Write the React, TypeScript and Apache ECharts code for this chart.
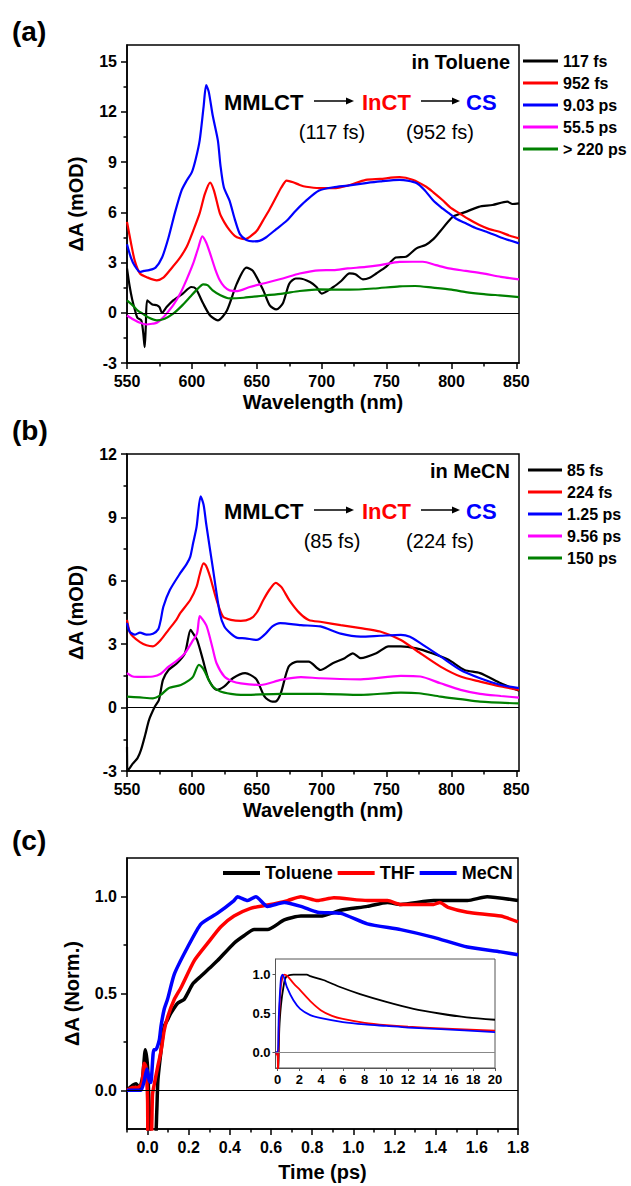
import React, { useEffect, useRef } from "react";
import * as echarts from "echarts";

type P = [number, number];

// ---------- Panel (a): in Toluene ----------
const aNames = ["117 fs", "952 fs", "9.03 ps", "55.5 ps", "> 220 ps"];
const a117fs: P[] = [[550,2.65],[552,1.6],[554,0.8],[556,0.2],[558,-0.3],[561,-0.45],[562.5,-1.2],[563.6,-2.06],[564.5,-0.8],[565.6,0.74],[569.5,0.5],[573,0.45],[575,0.34],[577,0.0],[580.5,0.34],[585.6,0.74],[593,1.15],[599.5,1.54],[603,1.44],[608.7,0.55],[614,-0.16],[620,-0.45],[627,0.14],[634.6,1.74],[642,2.7],[647,2.5],[655,1.34],[660,0.44],[665,0.2],[670,0.55],[675,1.74],[680,2.05],[683,2.05],[691,1.84],[696,1.54],[700,1.15],[709,1.54],[715,1.9],[721.5,2.35],[726,2.3],[731.7,2.0],[737,2.1],[742,2.35],[749.5,2.74],[757,3.3],[765,3.35],[773,3.85],[780,4.05],[786,4.4],[791,4.84],[801,5.73],[811,6.03],[821,6.33],[831.6,6.44],[843,6.64],[847,6.5],[852,6.54]];
const a952fs: P[] = [[550,5.43],[553,4.2],[556,3.1],[560,2.35],[566,2.1],[573,1.94],[578,2.1],[583,2.54],[590,3.2],[596,3.94],[601,4.9],[606,5.95],[610,7.1],[614,7.78],[617,7.3],[621.5,5.95],[625,5.4],[629,4.94],[633,4.6],[637,4.45],[641,4.4],[644.6,4.54],[650,4.9],[655,5.54],[660,6.2],[665,6.93],[669,7.5],[673,7.9],[678,7.8],[683,7.64],[688,7.53],[698,7.45],[709,7.45],[720,7.6],[734,7.94],[745,8.0],[760,8.1],[770,7.95],[780.5,7.53],[786,7.2],[793,6.74],[799,6.3],[806,5.95],[813,5.6],[821.5,5.24],[829,5.0],[837,4.84],[845,4.6],[852,4.45]];
const a903ps: P[] = [[550,4.1],[553,3.3],[556,2.8],[560,2.44],[563,2.5],[567,2.55],[572,2.7],[577,3.3],[582,4.5],[587,6.0],[592,7.3],[596,7.9],[600,8.4],[603,9.2],[606,10.3],[609,12.3],[611,13.6],[613,13.2],[616,11.8],[620,10.3],[622,8.8],[624.6,7.5],[629,6.7],[633,5.6],[637,4.7],[642,4.35],[647,4.27],[652,4.3],[657,4.5],[665,5.0],[673,5.5],[680,6.1],[688,6.7],[698,7.3],[709,7.5],[720,7.6],[734,7.75],[745,7.85],[760,7.94],[766,7.9],[773,7.75],[779,7.35],[785.6,6.74],[792,6.3],[798,5.95],[804,5.6],[811,5.35],[819,5.05],[827,4.84],[838,4.5],[852,4.15]];
const a555ps: P[] = [[550,-0.16],[555,-0.4],[560,-0.6],[565,-0.7],[570,-0.65],[573,-0.6],[577,-0.35],[580.5,-0.05],[586,0.5],[591,1.15],[596,2.0],[601,2.95],[605,3.9],[608,4.57],[611,4.2],[614,3.55],[618,2.6],[621.5,1.94],[625,1.55],[629,1.34],[635,1.3],[644.6,1.54],[655,1.75],[670,2.05],[683,2.35],[698,2.54],[709,2.55],[720,2.65],[734,2.74],[745,2.85],[760,3.04],[770,3.05],[778,3.05],[788,2.85],[798,2.65],[811,2.5],[824,2.35],[838,2.15],[852,2.0]];
const a220ps: P[] = [[550,0.74],[555,0.4],[558,0.15],[562,-0.05],[567,-0.3],[573,-0.45],[579,-0.35],[585.6,-0.05],[592,0.4],[598.5,0.94],[604,1.4],[608.7,1.7],[612,1.65],[616,1.34],[622,1.05],[629,0.86],[640,0.9],[657,1.04],[670,1.15],[683,1.3],[698,1.4],[721.5,1.38],[740,1.45],[760,1.58],[772,1.6],[785.6,1.5],[800,1.38],[811,1.24],[825,1.12],[837,1.04],[852,0.94]];

// ---------- Panel (b): in MeCN ----------
const bNames = ["85 fs", "224 fs", "1.25 ps", "9.56 ps", "150 ps"];
const b85fs: P[] = [[550,-1.85],[551,-2.95],[554.6,-2.64],[558,-2.4],[560.8,-2.0],[564,-1.3],[567,-0.58],[571.5,0.05],[574.6,0.36],[577.7,1.31],[582,1.78],[588.5,2.1],[594.6,2.57],[599,3.68],[601,3.5],[604,3.2],[608.5,2.26],[613,1.31],[619,0.84],[625,1.0],[631.5,1.39],[641,1.63],[645,1.55],[650,1.31],[656,0.52],[662,0.28],[665,0.3],[668.5,0.68],[674.6,1.94],[681,2.18],[690,2.18],[699,1.78],[708.5,2.1],[717.7,2.34],[724,2.57],[730,2.34],[742,2.57],[751.5,2.9],[761,2.9],[773,2.8],[785,2.57],[797.7,2.26],[810,1.78],[822,1.63],[838,1.15],[852,0.8]];
const b224fs: P[] = [[550,4.15],[552,3.6],[554.6,3.36],[560,3.1],[565,2.95],[570,2.9],[576,3.2],[582,3.68],[588,4.15],[591,4.47],[598.7,5.09],[603.6,5.72],[606,6.3],[609,6.83],[611,6.7],[614,6.19],[619,5.09],[624,4.3],[630,4.15],[637.7,4.1],[645,4.2],[650,4.5],[655,5.09],[660,5.6],[664.6,5.9],[669,5.7],[675,5.09],[683,4.47],[690,4.15],[700,4.05],[714.6,3.9],[730,3.76],[745,3.6],[761,3.2],[776,2.57],[791.5,1.94],[807,1.47],[822,1.23],[838,1.0],[852,0.84]];
const b125ps: P[] = [[550,4.0],[552,3.6],[556,3.45],[560,3.55],[565,3.45],[570,3.5],[574,3.7],[576,4.15],[578,4.77],[583,5.56],[591,6.36],[596,6.8],[598.7,7.13],[601,7.8],[603.6,8.55],[606.7,10.0],[609,9.6],[611,8.7],[616,6.66],[621.5,4.47],[625,3.84],[630,3.5],[635,3.3],[641,3.28],[650,3.2],[656,3.45],[662,3.84],[668,4.0],[684,3.9],[699,3.84],[714.6,3.5],[730,3.36],[745,3.4],[761,3.44],[768,3.35],[776,3.05],[791.5,2.42],[807,1.78],[822,1.39],[838,1.07],[852,0.92]];
const b956ps: P[] = [[550,1.63],[554.6,1.47],[560,1.45],[570,1.47],[576,1.6],[582,1.94],[588,2.2],[594.6,2.57],[600,3.1],[604,3.52],[606,4.33],[608.5,4.15],[611,3.9],[613,3.52],[616,2.8],[619,2.1],[625,1.47],[631,1.25],[637.7,1.15],[653,1.07],[668.5,1.31],[684,1.44],[699,1.39],[730,1.34],[761,1.5],[776,1.47],[791.5,1.15],[807,0.84],[822,0.65],[838,0.55],[852,0.47]];
const b150ps: P[] = [[550,0.52],[560,0.48],[570,0.44],[576,0.6],[582,0.92],[591.5,1.07],[598,1.3],[601,1.47],[605.4,2.02],[608,1.9],[610,1.7],[613,1.3],[616,1.0],[622,0.76],[630,0.65],[637.7,0.6],[668.5,0.65],[699,0.65],[730,0.6],[761,0.71],[775,0.68],[791.5,0.52],[807,0.4],[822,0.28],[852,0.2]];

// ---------- Panel (c): kinetics ----------
const cNames = ["Toluene", "THF", "MeCN"];
const cToluene: P[] = [[-0.1,0],[-0.072,0.026],[-0.056,0.034],[-0.04,0.01],[-0.024,0.07],[-0.011,0.21],[0,0.12],[0.008,-0.1],[0.015,-0.3],[0.035,-0.3],[0.045,-0.1],[0.05,0.05],[0.065,0.2],[0.081,0.33],[0.1,0.37],[0.114,0.4],[0.146,0.45],[0.178,0.47],[0.22,0.55],[0.26,0.59],[0.3,0.63],[0.34,0.67],[0.42,0.76],[0.47,0.8],[0.518,0.83],[0.583,0.83],[0.664,0.88],[0.745,0.9],[0.84,0.9],[0.939,0.93],[1.068,0.95],[1.166,0.97],[1.23,0.96],[1.39,0.98],[1.554,0.98],[1.65,1.0],[1.8,0.98]];
const cTHF: P[] = [[-0.1,0],[-0.072,0.014],[-0.048,0.014],[-0.028,0.034],[-0.016,0.14],[-0.008,0.12],[0,-0.05],[0.003,-0.3],[0.016,-0.3],[0.024,-0.02],[0.033,0.034],[0.049,0.12],[0.065,0.2],[0.081,0.31],[0.098,0.38],[0.13,0.47],[0.162,0.53],[0.227,0.67],[0.292,0.76],[0.356,0.845],[0.42,0.9],[0.5,0.94],[0.583,0.957],[0.68,0.98],[0.745,1.0],[0.826,0.98],[0.905,0.995],[1.068,0.98],[1.166,0.98],[1.23,0.96],[1.39,0.96],[1.42,0.97],[1.46,0.945],[1.554,0.92],[1.716,0.9],[1.8,0.87]];
const cMeCN: P[] = [[-0.1,0],[-0.064,0],[-0.032,0],[-0.016,0.05],[-0.003,0.11],[0.008,0.05],[0.016,0.04],[0.03,0.21],[0.04,0.21],[0.057,0.26],[0.065,0.33],[0.081,0.42],[0.097,0.47],[0.13,0.6],[0.195,0.74],[0.26,0.86],[0.34,0.915],[0.42,0.98],[0.437,1.0],[0.486,0.98],[0.526,1.0],[0.583,0.95],[0.664,0.97],[0.745,0.95],[0.826,0.92],[0.939,0.914],[1.068,0.86],[1.23,0.83],[1.39,0.79],[1.554,0.74],[1.716,0.715],[1.8,0.7]];

// inset (0-20 ps)
const iToluene: P[] = [[-0.2,0],[0,0],[0.05,-0.25],[0.15,0.3],[0.3,0.6],[0.53,0.84],[0.78,0.97],[1.45,1.0],[2.07,1.0],[2.68,1.0],[3.0,0.98],[4.2,0.93],[5.74,0.84],[7.58,0.75],[10,0.65],[12.5,0.56],[14.9,0.5],[17.4,0.45],[20,0.42]];
const iTHF: P[] = [[-0.2,0],[0,-0.05],[0.03,-0.3],[0.1,0.3],[0.3,0.85],[0.6,1.0],[0.9,0.98],[1.5,0.88],[2.07,0.8],[3,0.66],[4,0.54],[5,0.47],[6,0.43],[8,0.38],[10,0.35],[12,0.33],[15,0.31],[20,0.28]];
const iMeCN: P[] = [[-0.2,0],[0,0],[0.1,0.45],[0.3,0.95],[0.45,1.0],[0.85,0.84],[1.45,0.67],[2.07,0.56],[3,0.48],[4,0.44],[6,0.39],[8,0.36],[10,0.34],[12,0.32],[15,0.3],[20,0.26]];

// ---------- ticks ----------
const waveMajors = [550, 600, 650, 700, 750, 800, 850];
const waveMinors = [575, 625, 675, 725, 775, 825];
const aYMajors = [-3, 0, 3, 6, 9, 12, 15];
const aYMinors = [-1.5, 1.5, 4.5, 7.5, 10.5, 13.5];
const bYMajors = [-3, 0, 3, 6, 9, 12];
const bYMinors = [-1.5, 1.5, 4.5, 7.5, 10.5];
const cXMajors = [0, 0.2, 0.4, 0.6, 0.8, 1.0, 1.2, 1.4, 1.6, 1.8];
const cXMinors = [-0.1, 0.1, 0.3, 0.5, 0.7, 0.9, 1.1, 1.3, 1.5, 1.7];
const cYMajors = [0, 0.5, 1.0];
const cYMinors = [0.25, 0.75];
const iXMajors = [0, 2, 4, 6, 8, 10, 12, 14, 16, 18, 20];
const iYMajors = [0, 0.5, 1.0];

const spectraColors = ["#000000", "#ff0000", "#0000ff", "#ff00ff", "#008000"];
const kinColors = ["#000000", "#ff0000", "#0000ff"];

const F = "'Liberation Sans', Arial, Helvetica, sans-serif";

function axisPair(
  grid: number, min: number, max: number, majors: number[], minors: number[],
  fmt: (v: number) => string, o: any = {}
) {
  const col = o.color || "#000";
  const pos = o.pos;
  const main: any = {
    type: "value", gridIndex: grid, min, max, position: pos,
    name: o.name, nameLocation: "middle", nameGap: o.nameGap,
    nameTextStyle: { fontFamily: F, fontWeight: "bold", fontSize: 20, color: "#000" },
    axisLine: { show: true, onZero: false, lineStyle: { color: col, width: o.lw || 1.5 } },
    axisTick: { show: true, inside: false, length: o.tick || 6, customValues: majors, lineStyle: { color: col, width: o.lw || 1.5 } },
    axisLabel: { show: true, customValues: majors, formatter: fmt, fontFamily: F, fontWeight: "bold", fontSize: o.fs || 16, color: "#000", margin: o.margin || 10 },
    splitLine: { show: false },
  };
  const minor: any = {
    type: "value", gridIndex: grid, min, max, position: pos,
    axisLine: { show: false, onZero: false },
    axisTick: { show: minors.length > 0, inside: false, length: o.minorTick || 3.5, customValues: minors.length ? minors : majors, lineStyle: { color: col, width: o.lw || 1.5 } },
    axisLabel: { show: false },
    splitLine: { show: false },
  };
  return [main, minor];
}

const intFmt = (v: number) => String(Math.round(v));
const f1 = (v: number) => v.toFixed(1);

function buildOption() {
  const grids = [
    { left: 127, top: 45, width: 392, height: 318 },
    { left: 127, top: 454, width: 392, height: 317 },
    { left: 127, top: 858, width: 391, height: 271 },
    { left: 275.5, top: 959, width: 219.5, height: 109 },
  ].map((g, i) => ({
    ...g, show: true, backgroundColor: "#fff",
    borderColor: i === 3 ? "#555" : "#000", borderWidth: i === 3 ? 1 : 1.5, z: 0,
  }));

  const xAxis: any[] = [
    ...axisPair(0, 550, 852, waveMajors, waveMinors, intFmt, { pos: "bottom", name: "Wavelength (nm)", nameGap: 29 }),
    ...axisPair(1, 550, 852, waveMajors, waveMinors, intFmt, { pos: "bottom", name: "Wavelength (nm)", nameGap: 29 }),
    ...axisPair(2, -0.1, 1.8, cXMajors, cXMinors, f1, { pos: "bottom", name: "Time (ps)", nameGap: 33 }),
    ...axisPair(3, -0.2, 20, iXMajors, [], intFmt, { pos: "bottom", fs: 13, tick: 3, margin: 5, color: "#555", lw: 1 }),
  ];
  const yAxis: any[] = [
    ...axisPair(0, -3, 16, aYMajors, aYMinors, intFmt, { pos: "left", name: "\u0394A (mOD)", nameGap: 41 }),
    ...axisPair(1, -3, 12, bYMajors, bYMinors, intFmt, { pos: "left", name: "\u0394A (mOD)", nameGap: 41 }),
    ...axisPair(2, -0.2, 1.2, cYMajors, cYMinors, f1, { pos: "left", name: "\u0394A (Norm.)", nameGap: 45 }),
    ...axisPair(3, -0.2, 1.2, iYMajors, [], f1, { pos: "left", fs: 13, tick: 3, margin: 5, color: "#555", lw: 1 }),
  ];

  const zeroLine = (color = "#000", width = 1) => ({
    silent: true, symbol: "none", label: { show: false },
    lineStyle: { color, width, type: "solid" }, data: [{ yAxis: 0 }], animation: false,
  });

  const series: any[] = [];
  const addLine = (name: string, data: P[], color: string, axis: number, width: number, smooth: number | boolean, zero?: any) => {
    const s: any = {
      type: "line", name, data, xAxisIndex: axis * 2, yAxisIndex: axis * 2,
      showSymbol: false, symbol: "none", smooth, clip: true, silent: true,
      lineStyle: { color, width }, itemStyle: { color }, z: 3,
    };
    if (zero) s.markLine = zero;
    series.push(s);
  };

  const aData = [a117fs, a952fs, a903ps, a555ps, a220ps];
  aNames.forEach((n, i) => addLine(n, aData[i], spectraColors[i], 0, 2.2, 0.25, i === 0 ? zeroLine() : undefined));
  const bData = [b85fs, b224fs, b125ps, b956ps, b150ps];
  bNames.forEach((n, i) => addLine(n, bData[i], spectraColors[i], 1, 2.2, 0.25, i === 0 ? zeroLine() : undefined));
  const cData = [cToluene, cTHF, cMeCN];
  cNames.forEach((n, i) => addLine(n, cData[i], kinColors[i], 2, 3.5, 0.2, i === 0 ? zeroLine() : undefined));
  const iData = [iToluene, iTHF, iMeCN];
  cNames.forEach((n, i) => addLine(n + " (0-20 ps)", iData[i], kinColors[i], 3, 1.8, 0.3, i === 0 ? zeroLine("#888", 1) : undefined));

  const legendText = { fontFamily: F, fontWeight: "bold", fontSize: 16, color: "#000" };
  const legend: any[] = [
    { data: aNames, orient: "vertical", left: 523, top: 53, itemWidth: 35, itemHeight: 3, itemGap: 6, icon: "rect", textStyle: legendText, selectedMode: false, padding: 0 },
    { data: bNames, orient: "vertical", left: 528, top: 462, itemWidth: 34, itemHeight: 3, itemGap: 6, icon: "rect", textStyle: legendText, selectedMode: false, padding: 0 },
    { data: cNames, orient: "horizontal", left: 223, top: 864, itemWidth: 37, itemHeight: 4, itemGap: 5, icon: "rect", textStyle: { ...legendText, fontSize: 18 }, selectedMode: false, padding: 0 },
  ];

  const txt = (text: string, x: number, y: number, font: string, fill = "#000", align = "left") => ({
    type: "text", x, y, z: 10, silent: true,
    style: { text, font, fill, align, verticalAlign: "middle" },
  });
  const arrow = (x1: number, x2: number, y: number) => [
    { type: "line", z: 10, silent: true, shape: { x1, y1: y, x2: x2 - 6, y2: y }, style: { stroke: "#000", lineWidth: 1.6 } },
    { type: "polygon", z: 10, silent: true, shape: { points: [[x2 - 8, y - 3.5], [x2, y], [x2 - 8, y + 3.5]] }, style: { fill: "#000" } },
  ];
  const big = `bold 22px ${F}`;
  const norm = `20px ${F}`;
  const scheme = (y: number, t1: string, t2: string) => [
    txt("MMLCT", 224, y, big),
    ...arrow(314, 354, y - 1),
    txt("InCT", 362, y, big, "#ff0000"),
    ...arrow(421, 460, y - 1),
    txt("CS", 466, y, big, "#0000ff"),
    txt(t1, 332, y + 30, norm, "#000", "center"),
    txt(t2, 440, y + 30, norm, "#000", "center"),
  ];

  const graphic: any[] = [
    txt("(a)", 12, 31, `bold 28px ${F}`),
    txt("(b)", 12, 430, `bold 28px ${F}`),
    txt("(c)", 12, 840, `bold 28px ${F}`),
    txt("in Toluene", 510, 62, `bold 20px ${F}`, "#000", "right"),
    txt("in MeCN", 510, 471, `bold 20px ${F}`, "#000", "right"),
    ...scheme(102, "(117 fs)", "(952 fs)"),
    ...scheme(511, "(85 fs)", "(224 fs)"),
  ];

  return {
    animation: false,
    backgroundColor: "#fff",
    textStyle: { fontFamily: F },
    grid: grids, xAxis, yAxis, series, legend, graphic,
  };
}

export default function App() {
  const ref = useRef<HTMLDivElement>(null);
  useEffect(() => {
    if (!ref.current) return;
    const chart = echarts.init(ref.current, null, { renderer: "svg" });
    chart.setOption(buildOption() as any);
    return () => chart.dispose();
  }, []);
  return (
    <div
      ref={ref}
      style={{ position: "absolute", left: 0, top: 0, width: 631, height: 1186, background: "#fff" }}
    />
  );
}
